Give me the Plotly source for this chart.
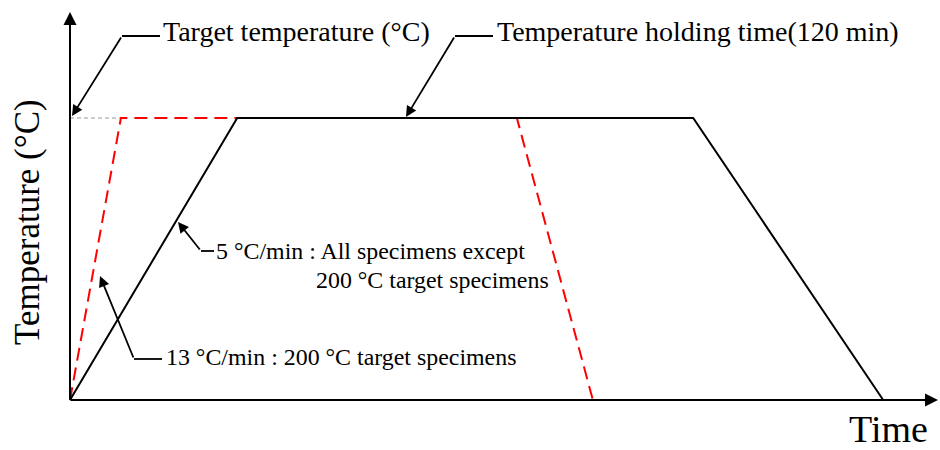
import plotly.graph_objects as go

# Schematic heating profile (time in min, temperature in relative °C units)
time_5 = [0, 44, 164, 214]
temp_5 = [0, 200, 200, 0]
time_13 = [0, 13.4, 117.6, 137.6]
temp_13 = [0, 200, 200, 0]
target_time = [0, 13.4]
target_temp = [200, 200]

W, H = 940, 450
OX, OY = 70, 400          # pixel location of origin
SX, SY = 3.8, 1.41        # pixels per unit

def dx(px):
    return (px - OX) / SX

def dy(py):
    return (OY - py) / SY

FONT = "Liberation Serif"

fig = go.Figure()
fig.add_trace(go.Scatter(x=target_time, y=target_temp, mode="lines",
                         line=dict(color="#bbbbbb", width=1.5, dash="4px,3px"),
                         hoverinfo="skip"))
fig.add_trace(go.Scatter(x=time_13, y=temp_13, mode="lines",
                         line=dict(color="#ff0000", width=2, dash="13px,7px"),
                         hoverinfo="skip"))
fig.add_trace(go.Scatter(x=time_5, y=temp_5, mode="lines",
                         line=dict(color="black", width=2),
                         hoverinfo="skip"))

ann = []
# axes arrows
ann.append(dict(x=dx(70), y=dy(12), ax=dx(70), ay=dy(401), xref="x", yref="y",
                axref="x", ayref="y", showarrow=True, arrowhead=2, arrowsize=1.3,
                arrowwidth=2, arrowcolor="black", text=""))
ann.append(dict(x=dx(938), y=dy(400), ax=dx(69), ay=dy(400), xref="x", yref="y",
                axref="x", ayref="y", showarrow=True, arrowhead=2, arrowsize=1.3,
                arrowwidth=2, arrowcolor="black", text=""))

# leader arrows: (tip px, tail px, end of horizontal leader px)
leaders = [((72, 116), (122, 36), (160, 36)),
           ((406, 117), (455, 36), (493, 36)),
           ((178, 222), (201, 251), (214, 251)),
           ((100, 276), (134, 359), (162, 359))]
shapes = []
for tip, tail, hend in leaders:
    ann.append(dict(x=dx(tip[0]), y=dy(tip[1]), ax=dx(tail[0]), ay=dy(tail[1]),
                    xref="x", yref="y", axref="x", ayref="y", showarrow=True,
                    arrowhead=2, arrowsize=1.2, arrowwidth=1.8, arrowcolor="black",
                    text=""))
    shapes.append(dict(type="line", xref="x", yref="y", x0=dx(tail[0]), y0=dy(tail[1]),
                       x1=dx(hend[0]), y1=dy(hend[1]),
                       line=dict(color="black", width=1.8)))

def label(text, px, py, size, xanchor="left"):
    ann.append(dict(x=dx(px), y=dy(py), xref="x", yref="y", text=text,
                    showarrow=False, xanchor=xanchor, yanchor="middle",
                    font=dict(family=FONT, size=size, color="black")))

label("Target temperature (°C)", 161, 31, 28)
label("Temperature holding time(120 min)", 495, 31, 28)
label("5 °C/min : All specimens except", 214, 251, 23.9)
label("200 °C target specimens", 314, 280, 23.9)
label("13 °C/min : 200 °C target specimens", 164, 357, 23.9)
label("Time", 888, 429, 38, xanchor="center")

ann.append(dict(x=dx(27), y=dy(222), xref="x", yref="y", text="Temperature (°C)",
                showarrow=False, textangle=-90, xanchor="center", yanchor="middle",
                font=dict(family=FONT, size=35, color="black")))

fig.update_layout(
    width=W, height=H,
    margin=dict(l=0, r=0, t=0, b=0),
    paper_bgcolor="white", plot_bgcolor="white",
    showlegend=False,
    xaxis=dict(range=[dx(0), dx(W)], visible=False, fixedrange=True),
    yaxis=dict(range=[dy(H), dy(0)], visible=False, fixedrange=True),
    annotations=ann, shapes=shapes,
)
fig.write_html("out.html")
